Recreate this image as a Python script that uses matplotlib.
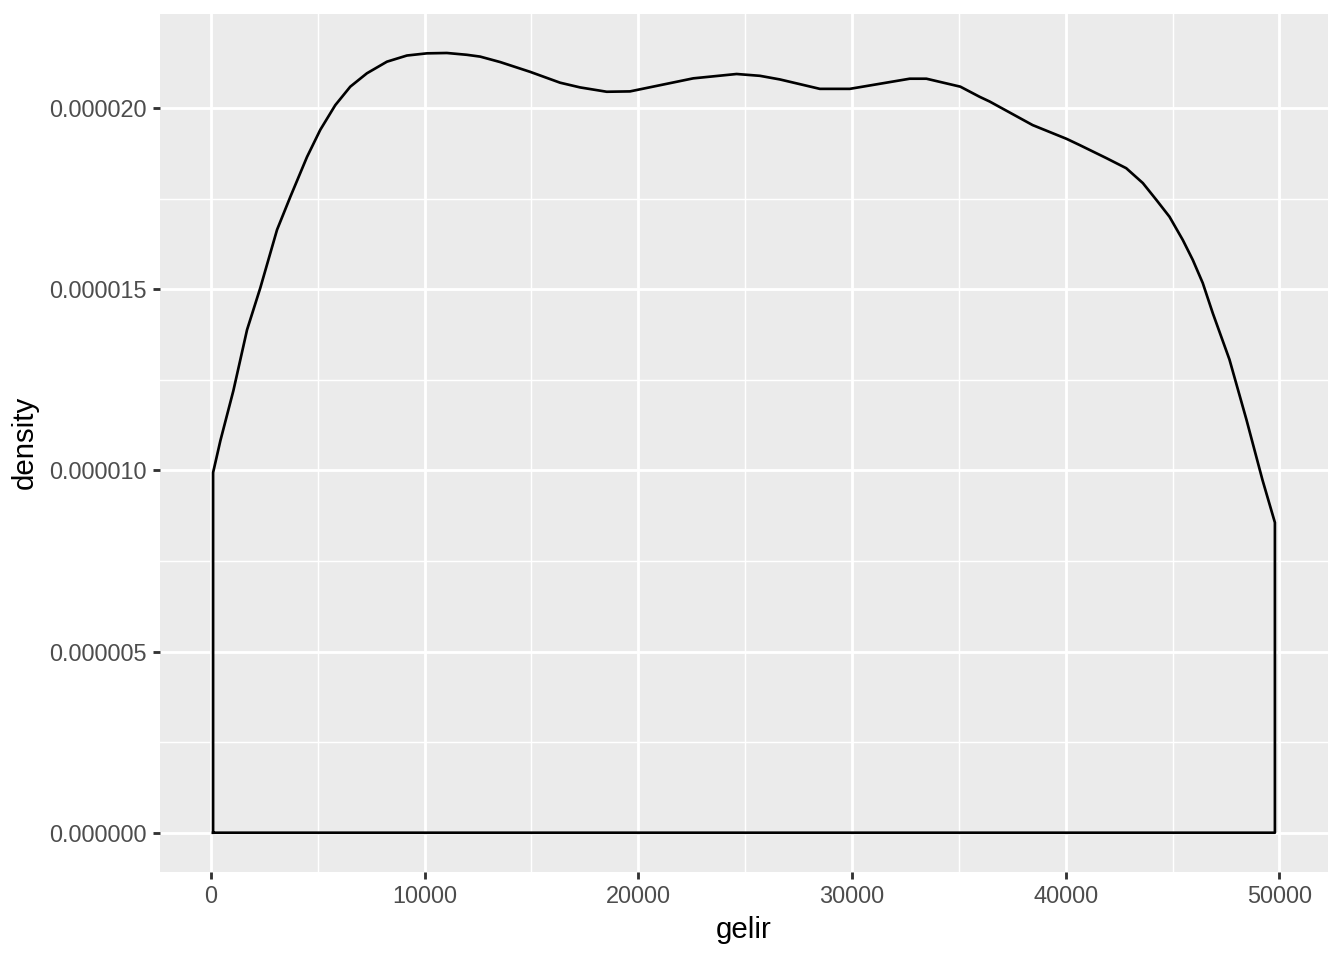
import matplotlib
matplotlib.use("Agg")
import matplotlib.pyplot as plt
from matplotlib.ticker import FixedLocator

gelir = [103, 444, 1052, 1692, 2314, 3095, 3717, 4497, 5119, 5820, 6522, 7302,
         8238, 9173, 10108, 11043, 11978, 12600, 13535, 14937, 16340, 17275,
         18522, 19612, 22571, 24600, 25690, 26625, 28495, 29897, 32702,
         33482, 35071, 35975, 36443, 38453, 40042, 40650, 41898, 42833, 43610,
         44236, 44857, 45479, 45946, 46414, 46882, 47663, 48458, 49206,
         49790]
density = [9.94, 10.82, 12.2, 13.88, 15.04, 16.64, 17.55, 18.65, 19.40, 20.08,
           20.59, 20.96, 21.28, 21.45, 21.51, 21.52, 21.47, 21.42, 21.27, 21.0,
           20.70, 20.57, 20.45, 20.46, 20.82, 20.94, 20.89, 20.79, 20.53,
           20.53, 20.81, 20.81, 20.59, 20.31, 20.18, 19.53, 19.15, 18.98, 18.62,
           18.34, 17.93, 17.47, 17.0, 16.36, 15.81, 15.17, 14.34, 13.06,
           11.4, 9.74, 8.56]
density = [d * 1e-6 for d in density]

x_ticks = [0, 10000, 20000, 30000, 40000, 50000]
x_minor = [5000, 15000, 25000, 35000, 45000]
y_ticks = [0, 5e-6, 10e-6, 15e-6, 20e-6]
y_minor = [2.5e-6, 7.5e-6, 12.5e-6, 17.5e-6]
y_labels = ["0.000000", "0.000005", "0.000010", "0.000015", "0.000020"]

plt.rcParams['font.family'] = ['Liberation Sans', 'DejaVu Sans']

fig = plt.figure(figsize=(7, 5), dpi=192)
ax = fig.add_axes([160/1344, 1 - 871.7/960, (1328-160)/1344, (871.7-14)/960])
ax.set_facecolor('#EBEBEB')

xmin, xmax = min(gelir), max(gelir)
xr = xmax - xmin
ymax = max(density)
ax.set_xlim(xmin - 0.05*xr, xmax + 0.05*xr)
ax.set_ylim(-0.05*ymax, ymax*1.05)

ax.xaxis.set_major_locator(FixedLocator(x_ticks))
ax.xaxis.set_minor_locator(FixedLocator(x_minor))
ax.yaxis.set_major_locator(FixedLocator(y_ticks))
ax.yaxis.set_minor_locator(FixedLocator(y_minor))
ax.set_xticklabels([str(t) for t in x_ticks])
ax.set_yticklabels(y_labels)

ax.grid(which='major', color='white', linewidth=1.07)
ax.grid(which='minor', color='white', linewidth=0.53)
ax.set_axisbelow(True)
for s in ax.spines.values():
    s.set_visible(False)

ax.tick_params(which='major', length=2.75, width=1.07, color='#333333',
               labelsize=8.8, labelcolor='#4D4D4D', pad=2.2)
ax.tick_params(which='minor', length=0)

xs = [gelir[0]] + gelir + [gelir[-1], gelir[0]]
ys = [0] + density + [0, 0]
ax.plot(xs, ys, color='black', linewidth=1.0, solid_joinstyle='round')

ax.set_xlabel('gelir', fontsize=11, color='black', labelpad=3)
ax.set_ylabel('density', fontsize=11, color='black', labelpad=4)

fig.savefig('out.png', dpi=192)
